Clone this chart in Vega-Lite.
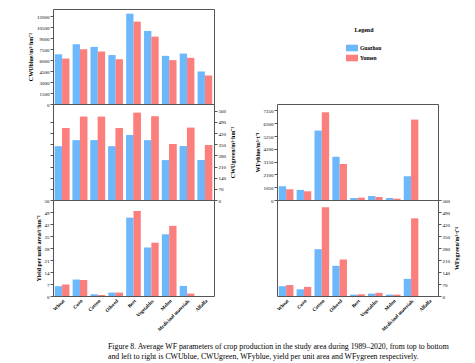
{
  "$schema": "https://vega.github.io/schema/vega-lite/v6.json",
  "padding": {"left": 27, "top": 8, "right": 5, "bottom": 5},
  "background": "white",
  "datasets": {
    "wf": [
      {"crop": "Wheat", "site": "Guazhou", "cwu_blue": 6800, "cwu_green": 336, "yield": 5.7, "wf_yblue": 1130, "wf_ygreen": 57},
      {"crop": "Wheat", "site": "Yumen", "cwu_blue": 6220, "cwu_green": 451, "yield": 6.7, "wf_yblue": 880, "wf_ygreen": 64},
      {"crop": "Corn", "site": "Guazhou", "cwu_blue": 8180, "cwu_green": 374, "yield": 9.6, "wf_yblue": 830, "wf_ygreen": 39},
      {"crop": "Corn", "site": "Yumen", "cwu_blue": 7500, "cwu_green": 522, "yield": 9.4, "wf_yblue": 716, "wf_ygreen": 53},
      {"crop": "Cotton", "site": "Guazhou", "cwu_blue": 7820, "cwu_green": 374, "yield": 1.0, "wf_yblue": 5700, "wf_ygreen": 273},
      {"crop": "Cotton", "site": "Yumen", "cwu_blue": 7180, "cwu_green": 522, "yield": 0.6, "wf_yblue": 7210, "wf_ygreen": 517},
      {"crop": "Oilseed", "site": "Guazhou", "cwu_blue": 6700, "cwu_green": 336, "yield": 2.0, "wf_yblue": 3550, "wf_ygreen": 176},
      {"crop": "Oilseed", "site": "Yumen", "cwu_blue": 6130, "cwu_green": 451, "yield": 2.0, "wf_yblue": 2945, "wf_ygreen": 213},
      {"crop": "Beet", "site": "Guazhou", "cwu_blue": 12360, "cwu_green": 407, "yield": 45.7, "wf_yblue": 165, "wf_ygreen": 8},
      {"crop": "Beet", "site": "Yumen", "cwu_blue": 11270, "cwu_green": 547, "yield": 49.6, "wf_yblue": 193, "wf_ygreen": 10},
      {"crop": "Vegetables", "site": "Guazhou", "cwu_blue": 10000, "cwu_green": 374, "yield": 28.3, "wf_yblue": 330, "wf_ygreen": 14},
      {"crop": "Vegetables", "site": "Yumen", "cwu_blue": 9220, "cwu_green": 524, "yield": 31.1, "wf_yblue": 248, "wf_ygreen": 18},
      {"crop": "Melon", "site": "Guazhou", "cwu_blue": 6590, "cwu_green": 249, "yield": 36.0, "wf_yblue": 165, "wf_ygreen": 8},
      {"crop": "Melon", "site": "Yumen", "cwu_blue": 6000, "cwu_green": 351, "yield": 40.9, "wf_yblue": 110, "wf_ygreen": 8},
      {"crop": "Medicinal materials", "site": "Guazhou", "cwu_blue": 6900, "cwu_green": 338, "yield": 5.9, "wf_yblue": 1950, "wf_ygreen": 100},
      {"crop": "Medicinal materials", "site": "Yumen", "cwu_blue": 6320, "cwu_green": 453, "yield": 1.4, "wf_yblue": 6600, "wf_ygreen": 453},
      {"crop": "Alfalfa", "site": "Guazhou", "cwu_blue": 4450, "cwu_green": 251, "yield": 0, "wf_yblue": 0, "wf_ygreen": 0},
      {"crop": "Alfalfa", "site": "Yumen", "cwu_blue": 3900, "cwu_green": 345, "yield": 0, "wf_yblue": 0, "wf_ygreen": 0}
    ]
  },
  "title": {
    "text": [
      "Figure 8.  Average WF parameters of crop production in the study area during 1989–2020, from top to bottom",
      "and left to right is CWUblue, CWUgreen, WFyblue, yield per unit area and WFygreen respectively."
    ],
    "orient": "bottom",
    "anchor": "start",
    "frame": "group",
    "dx": 55,
    "offset": 11,
    "font": "Liberation Serif",
    "fontSize": 7.8,
    "fontWeight": "normal",
    "lineHeight": 10,
    "color": "#000"
  },
  "columns": 2,
  "spacing": {"row": 0, "column": 63},
  "bounds": "flush",
  "resolve": {"scale": {"color": "independent", "x": "independent", "y": "independent"}},
  "concat": [
    {
      "width": 161, "height": 95,
      "data": {"name": "wf"},
      "mark": {"type": "bar"},
      "encoding": {
        "x": {"field": "crop", "type": "nominal", "sort": ["Wheat","Corn","Cotton","Oilseed","Beet","Vegetables","Melon","Medicinal materials","Alfalfa"], "scale": {"paddingInner": 0.18, "paddingOuter": 0.1}, "axis": null},
        "xOffset": {"field": "site", "type": "nominal", "sort": ["Guazhou","Yumen"]},
        "y": {"field": "cwu_blue", "type": "quantitative", "scale": {"domain": [0, 13000], "nice": false},
              "axis": {"values": [0,1500,3000,4500,6000,7500,9000,10500,12000], "format": "d", "title": "CWUblue/m³·hm⁻²"}},
        "color": {"field": "site", "type": "nominal", "scale": {"domain": ["Guazhou","Yumen"], "range": ["#6db7fb","#fb7f7c"]}, "legend": null}
      }
    },
    {
      "width": 161, "height": 95,
      "data": {"name": "wf"},
      "view": {"stroke": null},
      "mark": {"type": "bar", "opacity": 0},
      "encoding": {
        "x": {"field": "crop", "type": "nominal", "axis": null},
        "y": {"field": "yield", "type": "quantitative", "axis": null},
        "color": {"field": "site", "type": "nominal", "scale": {"domain": ["Guazhou","Yumen"], "range": ["#6db7fb","#fb7f7c"]},
                  "legend": {"title": "Legend", "orient": "none", "legendX": 69, "legendY": 18, "titleAnchor": "middle",
                             "symbolType": "M-1,-0.55H1V0.55H-1Z", "symbolSize": 144, "symbolOpacity": 1, "symbolStrokeWidth": 0,
                             "rowPadding": 0, "titlePadding": 9, "labelOffset": 2,
                             "labelFont": "Liberation Serif", "labelFontSize": 5.5, "labelFontWeight": "bold",
                             "titleFont": "Liberation Serif", "titleFontSize": 6, "titleFontWeight": "bold"}}
      }
    },
    {
      "width": 161, "height": 96,
      "data": {"name": "wf"},
      "encoding": {
        "x": {"field": "crop", "type": "nominal", "sort": ["Wheat","Corn","Cotton","Oilseed","Beet","Vegetables","Melon","Medicinal materials","Alfalfa"], "scale": {"paddingInner": 0.18, "paddingOuter": 0.1}, "axis": null},
        "xOffset": {"field": "site", "type": "nominal", "sort": ["Guazhou","Yumen"]},
        "color": {"field": "site", "type": "nominal", "scale": {"domain": ["Guazhou","Yumen"], "range": ["#6db7fb","#fb7f7c"]}, "legend": null}
      },
      "layer": [
        {
          "mark": {"type": "bar"},
          "encoding": {
            "y": {"field": "cwu_green", "type": "quantitative", "scale": {"domain": [0, 602], "nice": false},
                  "axis": {"orient": "right", "values": [0,70,140,210,280,350,420,490,560], "format": "d", "title": "CWUgreen/m³·hm⁻²", "titleAngle": 270, "titleBaseline": "top", "titlePadding": 4}}
          }
        },
        {
          "mark": {"type": "bar"},
          "encoding": {
            "y": {"field": "cwu_green", "type": "quantitative", "scale": {"domain": [0, 602], "nice": false},
                  "axis": {"orient": "left", "values": [70,140,210,280,350,420,490], "labels": false, "title": null}}
          }
        }
      ],
      "resolve": {"axis": {"y": "independent"}}
    },
    {
      "width": 161, "height": 96,
      "data": {"name": "wf"},
      "mark": {"type": "bar"},
      "encoding": {
        "x": {"field": "crop", "type": "nominal", "sort": ["Wheat","Corn","Cotton","Oilseed","Beet","Vegetables","Melon","Medicinal materials","Alfalfa"], "scale": {"paddingInner": 0.18, "paddingOuter": 0.1}, "axis": null},
        "xOffset": {"field": "site", "type": "nominal", "sort": ["Guazhou","Yumen"]},
        "y": {"field": "wf_yblue", "type": "quantitative", "scale": {"domain": [0, 7880], "nice": false},
              "axis": {"values": [0,1050,2100,3150,4200,5250,6300,7350], "format": "d", "title": "WFyblue/m³·t⁻¹"}},
        "color": {"field": "site", "type": "nominal", "scale": {"domain": ["Guazhou","Yumen"], "range": ["#6db7fb","#fb7f7c"]}, "legend": null}
      }
    },
    {
      "width": 161, "height": 96,
      "data": {"name": "wf"},
      "mark": {"type": "bar"},
      "encoding": {
        "x": {"field": "crop", "type": "nominal", "sort": ["Wheat","Corn","Cotton","Oilseed","Beet","Vegetables","Melon","Medicinal materials","Alfalfa"], "scale": {"paddingInner": 0.18, "paddingOuter": 0.1},
              "axis": {"title": null, "labelAngle": -45, "ticks": false, "domain": false, "labelFontWeight": "bold", "labelPadding": 2}},
        "xOffset": {"field": "site", "type": "nominal", "sort": ["Guazhou","Yumen"]},
        "y": {"field": "yield", "type": "quantitative", "scale": {"domain": [0, 56], "nice": false},
              "axis": {"values": [0,7,14,21,28,35,42,49,56], "format": "d", "title": "Yield per unit area/t·hm⁻²"}},
        "color": {"field": "site", "type": "nominal", "scale": {"domain": ["Guazhou","Yumen"], "range": ["#6db7fb","#fb7f7c"]}, "legend": null}
      }
    },
    {
      "width": 161, "height": 96,
      "data": {"name": "wf"},
      "mark": {"type": "bar"},
      "encoding": {
        "x": {"field": "crop", "type": "nominal", "sort": ["Wheat","Corn","Cotton","Oilseed","Beet","Vegetables","Melon","Medicinal materials","Alfalfa"], "scale": {"paddingInner": 0.18, "paddingOuter": 0.1},
              "axis": {"title": null, "labelAngle": -45, "ticks": false, "domain": false, "labelFontWeight": "bold", "labelPadding": 2}},
        "xOffset": {"field": "site", "type": "nominal", "sort": ["Guazhou","Yumen"]},
        "y": {"field": "wf_ygreen", "type": "quantitative", "scale": {"domain": [0, 560], "nice": false},
              "axis": {"orient": "right", "values": [0,70,140,210,280,350,420,490,560], "format": "d", "title": "WFygreen/m³·t⁻¹", "titleAngle": 270, "titleBaseline": "top", "titlePadding": 4}},
        "color": {"field": "site", "type": "nominal", "scale": {"domain": ["Guazhou","Yumen"], "range": ["#6db7fb","#fb7f7c"]}, "legend": null}
      }
    }
  ],
  "config": {
    "view": {"stroke": "#555", "strokeWidth": 1},
    "axis": {
      "labelFont": "Liberation Serif", "titleFont": "Liberation Serif",
      "labelFontSize": 5, "titleFontSize": 6, "titleFontWeight": "bold",
      "labelColor": "#000", "titleColor": "#000", "tickColor": "#555",
      "tickSize": 3, "domain": false, "grid": false, "labelPadding": 1, "titlePadding": 3
    }
  }
}
